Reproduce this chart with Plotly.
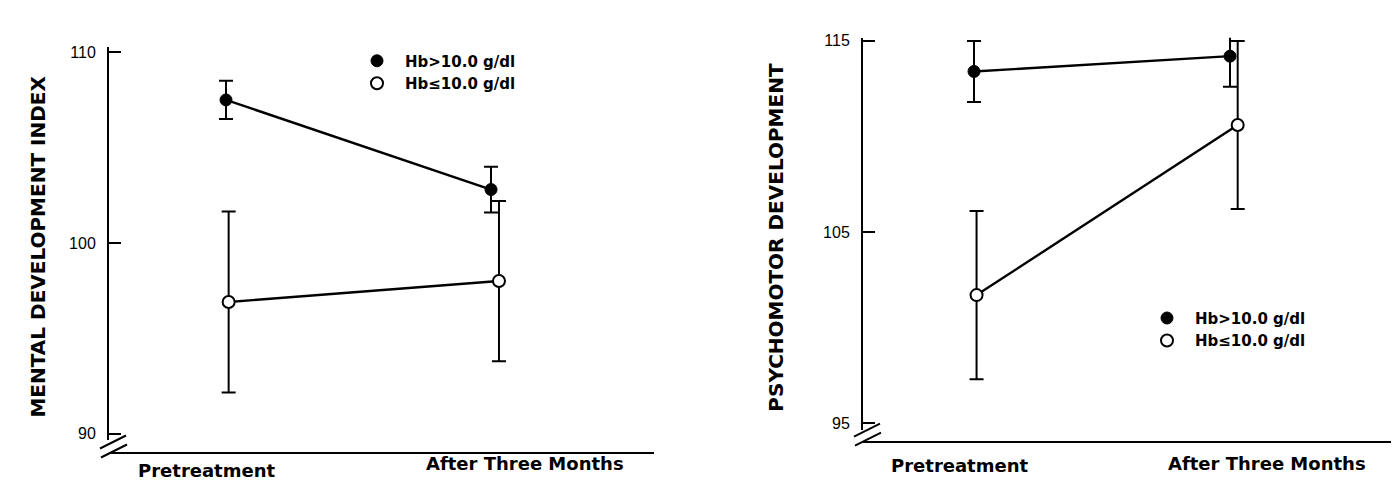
import plotly.graph_objects as go

# ---------------- data ----------------
time_labels = ["Pretreatment", "After Three Months"]
series_names = ["Hb>10.0 g/dl", "Hb\u226410.0 g/dl"]

mdi_high_mean = [107.5, 102.8]
mdi_high_err = [1.0, 1.2]
mdi_low_mean = [96.9, 98.0]
mdi_low_err = [4.75, 4.2]

pdi_high_mean = [113.4, 114.2]
pdi_high_err = [1.6, 1.6]
pdi_low_mean = [101.7, 110.6]
pdi_low_err = [4.4, 4.4]

mdi_ticks = [90, 100, 110]
pdi_ticks = [95, 105, 115]

# ---------------- style ----------------
BLACK = "#000000"
TXT = "DejaVu Sans"
NUM = "Liberation Sans Narrow, Liberation Sans, Arial, sans-serif"
DODGE = [0.01, 0.03]
W, H = 1399, 481

def py(p):  # pixel from top -> paper
    return 1 - p / H

def px(p):
    return p / W

xpos = list(range(len(time_labels)))

fig = go.Figure()

def add_panel(xa, ya, hi_m, hi_e, lo_m, lo_e):
    fig.add_trace(go.Scatter(
        x=xpos, y=hi_m, mode="lines+markers", xaxis=xa, yaxis=ya,
        line=dict(color=BLACK, width=2.4),
        marker=dict(size=12, color=BLACK, line=dict(color=BLACK, width=1)),
        error_y=dict(type="data", array=hi_e, color=BLACK, thickness=2, width=7),
        showlegend=False, name=series_names[0]))
    fig.add_trace(go.Scatter(
        x=[v + d for v, d in zip(xpos, DODGE)], y=lo_m, mode="lines+markers",
        xaxis=xa, yaxis=ya,
        line=dict(color=BLACK, width=2.4),
        marker=dict(size=12, color="white", line=dict(color=BLACK, width=2)),
        error_y=dict(type="data", array=lo_e, color=BLACK, thickness=2, width=7),
        showlegend=False, name=series_names[1]))

add_panel("x", "y", mdi_high_mean, mdi_high_err, mdi_low_mean, mdi_low_err)
add_panel("x2", "y2", pdi_high_mean, pdi_high_err, pdi_low_mean, pdi_low_err)

# legend-only marker entries
for lg, xa, ya in [("legend", "x", "y"), ("legend2", "x2", "y2")]:
    fig.add_trace(go.Scatter(x=[None], y=[None], mode="markers", xaxis=xa, yaxis=ya,
                             marker=dict(size=12, color=BLACK, line=dict(color=BLACK, width=1)),
                             name=series_names[0], legend=lg))
    fig.add_trace(go.Scatter(x=[None], y=[None], mode="markers", xaxis=xa, yaxis=ya,
                             marker=dict(size=12, color="white", line=dict(color=BLACK, width=2)),
                             name=series_names[1], legend=lg))

xcommon = dict(showline=True, linewidth=2, linecolor=BLACK, showgrid=False,
               zeroline=False, showticklabels=False, ticks="", anchor="free")
ycommon = dict(showline=True, linewidth=2, linecolor=BLACK, showgrid=False,
               zeroline=False, ticks="inside", ticklen=12, tickwidth=2,
               tickcolor=BLACK, ticklabelstandoff=8,
               tickfont=dict(family=NUM, size=16, color=BLACK))

leg_font = dict(family=TXT, size=15, color=BLACK, weight="bold")

fig.update_layout(
    width=W, height=H, margin=dict(l=0, r=0, t=0, b=0),
    paper_bgcolor="white", plot_bgcolor="white",
    xaxis=dict(domain=[px(101), px(646)], range=[-0.4415, 1.615],
               position=py(447), **xcommon),
    yaxis=dict(domain=[py(433), py(35)], range=[89.68, 110.25], anchor="x",
               tickvals=mdi_ticks, **ycommon),
    xaxis2=dict(domain=[px(855), px(1395)], range=[-0.4336, 1.6758],
                position=py(435), **xcommon),
    yaxis2=dict(domain=[py(423), py(25)], range=[94.65, 115.17], anchor="x2",
                tickvals=pdi_ticks, **ycommon),
    legend=dict(x=px(341), y=py(32), xanchor="left", yanchor="top",
                font=leg_font, itemwidth=46, bgcolor="rgba(0,0,0,0)",
                tracegroupgap=0),
    legend2=dict(x=px(1131), y=py(293), xanchor="left", yanchor="top",
                 font=leg_font, itemwidth=46, bgcolor="rgba(0,0,0,0)",
                 tracegroupgap=0),
    showlegend=True,
)

lab_font = dict(family=TXT, size=18, color=BLACK, weight="bold")
ann = []
# x category labels
for xr, xs, ys in [("x", [-0.075, 1.13], [464, 457]), ("x2", [-0.055, 1.145], [459, 457])]:
    for t, xv, yv in zip(time_labels, xs, ys):
        ann.append(dict(text=t, xref=xr, yref="paper", x=xv, y=py(yv),
                        xanchor="center", yanchor="middle", showarrow=False, font=lab_font))
# y axis titles
title_font = dict(family=TXT, size=20, color=BLACK, weight="bold")
ann.append(dict(text="MENTAL DEVELOPMENT INDEX", xref="paper", yref="paper",
                x=px(30), y=py(237), textangle=-90, showarrow=False,
                xanchor="center", yanchor="middle", font=title_font))
ann.append(dict(text="PSYCHOMOTOR DEVELOPMENT", xref="paper", yref="paper",
                x=px(768), y=py(228), textangle=-90, showarrow=False,
                xanchor="center", yanchor="middle", font=title_font))
fig.update_layout(annotations=ann)

# axis-break slashes (pixel offsets relative to the x-axis/y-axis corner)
shapes = []
for xr, ybase in [("x domain", 447), ("x2 domain", 435)]:
    for (dx0, dy0, dx1, dy1) in [(-9, 5, 17, 18), (-8, -4, 18, 9)]:
        shapes.append(dict(type="line", xref=xr, yref="paper",
                           xsizemode="pixel", xanchor=0, x0=dx0, x1=dx1,
                           ysizemode="pixel", yanchor=py(ybase), y0=dy0, y1=dy1,
                           line=dict(color=BLACK, width=2)))
fig.update_layout(shapes=shapes)

fig.write_html("out.html")
